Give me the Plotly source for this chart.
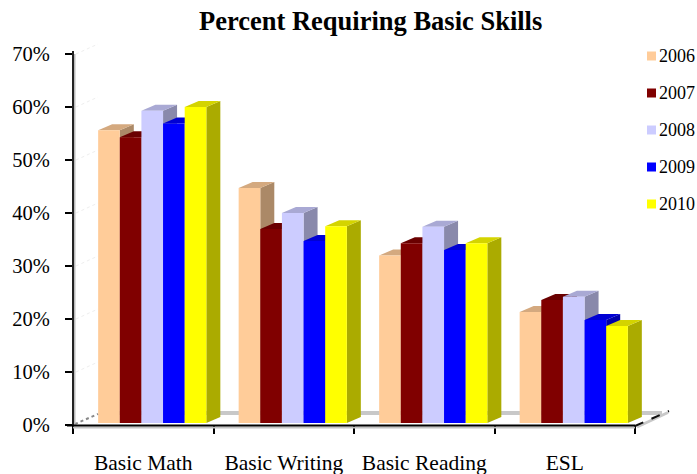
import plotly.graph_objects as go

categories = ["Basic Math", "Basic Writing", "Basic Reading", "ESL"]
years = ["2006", "2007", "2008", "2009", "2010"]
v2006 = [55.6, 44.7, 32.0, 21.3]
v2007 = [54.3, 37.0, 34.3, 23.6]
v2008 = [59.3, 40.0, 37.4, 24.2]
v2009 = [56.9, 34.7, 33.0, 19.8]
v2010 = [60.0, 37.5, 34.3, 18.7]
series = [v2006, v2007, v2008, v2009, v2010]
colors = ["#FFCC99", "#800000", "#CCCCFF", "#0000FF", "#FFFF00"]
y_ticks = [0, 10, 20, 30, 40, 50, 60, 70]

W, H = 697, 474
X0, X4, Y0, Y70 = 73, 635, 425, 54      # pixel frame of the axes
XR = 660                                 # plot area runs past the axis for the 3D depth
UNIT = (X4 - X0) / 4
BAR_W = 0.154
OFFSET = 0.064
BASE = 0.4
DX = 14 / UNIT
DY = 6 / ((Y0 - Y70) / 70)


def shade(hex_color, k):
    r, g, b = (int(hex_color[i:i + 2], 16) for i in (1, 3, 5))
    return f"rgb({round(r * k)},{round(g * k)},{round(b * k)})"


def px(x):
    return x / W


def py(y):
    return 1 - y / H


def line(x0, y0, x1, y1, color, width, dash="solid", layer="above"):
    return dict(type="line", xref="paper", yref="paper", x0=px(x0), y0=py(y0), x1=px(x1), y1=py(y1),
                line=dict(color=color, width=width, dash=dash), layer=layer)


fig = go.Figure()

# side faces, then top faces, underneath the fronts
for i in range(len(categories)):
    for j, vals in enumerate(series):
        left = i + 0.5 + OFFSET + (j - 2.5) * BAR_W
        right = left + BAR_W
        v = vals[i]
        fig.add_trace(go.Scatter(
            x=[right, right + DX, right + DX, right, right],
            y=[BASE, BASE + DY, v + DY, v, BASE],
            mode="lines", fill="toself", fillcolor=shade(colors[j], 0.67),
            line=dict(width=0), hoverinfo="skip", showlegend=False))
for i in range(len(categories)):
    for j, vals in enumerate(series):
        left = i + 0.5 + OFFSET + (j - 2.5) * BAR_W
        right = left + BAR_W
        v = vals[i]
        fig.add_trace(go.Scatter(
            x=[left, right, right + DX, left + DX, left],
            y=[v, v, v + DY, v + DY, v],
            mode="lines", fill="toself", fillcolor=shade(colors[j], 0.83),
            line=dict(width=0), hoverinfo="skip", showlegend=False))

# front faces
centers = [i + 0.5 + OFFSET for i in range(len(categories))]
for j, vals in enumerate(series):
    fig.add_trace(go.Bar(
        x=centers, y=[v - BASE for v in vals], base=BASE, name=years[j],
        marker=dict(color=colors[j], line=dict(width=0)),
        xaxis="x2", yaxis="y2", showlegend=False))

shapes = [
    # floor back edge
    line(100, 413, 662, 413, "#C8C8C8", 4, layer="below"),
    # left floor edge and right depth axis
    line(75, 424, 98, 414, "#888888", 2, "dot"),
    line(X4 + 2, 427, 668, 412.5, "#C8C8C8", 3, layer="below"),
    line(X4, 426, 669, 411, "#111111", 2, "dash"),
    # axis lines with their soft shadows
    line(X0 + 1.5, Y70, X0 + 1.5, Y0, "#BBBBBB", 2),
    line(X0, Y70 - 3, X0, Y0 + 1, "#222222", 2),
    line(X0, Y0 + 2.5, X4, Y0 + 2.5, "#C4C4C4", 2),
    line(X0 - 6, Y0 + 0.5, X4, Y0 + 0.5, "#000000", 2),
]
for t in y_ticks[1:]:
    y = Y0 - t * (Y0 - Y70) / 70
    shapes.append(line(X0 + 3, y, 98, y - 10, "#EEEEEE", 1, "dot", layer="below"))

annotations = [dict(text="<b>Percent Requiring Basic Skills</b>", xref="paper", yref="paper",
                    x=px(370), y=py(21), xanchor="center", yanchor="middle", showarrow=False,
                    font=dict(family="Liberation Serif", size=26.5, color="#000000"))]
for j, year in enumerate(years):
    yc = 56 + j * 37
    shapes.append(dict(type="rect", xref="paper", yref="paper", x0=px(647), x1=px(656),
                       y0=py(yc + 4.5), y1=py(yc - 4.5), fillcolor=colors[j], line=dict(width=0)))
    annotations.append(dict(text=year, xref="paper", yref="paper", x=px(657), y=py(yc),
                            xanchor="left", yanchor="middle", showarrow=False,
                            font=dict(family="Liberation Serif", size=18, color="#000000")))

x_range = [0, (XR - X0) / UNIT]
x_domain = [px(X0), px(XR)]
y_domain = [py(Y0), py(Y70)]

fig.update_layout(
    width=W, height=H, margin=dict(l=0, r=0, t=0, b=0, autoexpand=False),
    paper_bgcolor="white", plot_bgcolor="white", showlegend=False,
    barmode="group", bargap=1 - 5 * BAR_W, bargroupgap=0,
    font=dict(family="Liberation Serif", size=19, color="#000000"),
    shapes=shapes, annotations=annotations,
    xaxis=dict(domain=x_domain, range=x_range, showgrid=False, zeroline=False, showline=False,
               tickmode="array", tickvals=[i + 0.5 for i in range(len(categories))], ticktext=categories,
               ticks="", ticklabelstandoff=22, tickfont=dict(size=21.5),
               minor=dict(tickmode="array", tickvals=list(range(len(categories) + 1)),
                          ticks="outside", ticklen=8, tickwidth=2, tickcolor="#000000")),
    yaxis=dict(domain=y_domain, range=[0, 70], showgrid=False, zeroline=False, showline=False,
               tickmode="array", tickvals=y_ticks, ticktext=[f"{t}%" for t in y_ticks],
               ticks="outside", ticklen=7, tickwidth=2, tickcolor="#000000", ticklabelstandoff=11,
               tickfont=dict(size=20.5)),
    xaxis2=dict(overlaying="x", domain=x_domain, range=x_range, visible=False),
    yaxis2=dict(overlaying="y", domain=y_domain, range=[0, 70], visible=False),
)
fig.write_html("out.html", config={"displayModeBar": False},
               post_script="document.body.style.margin='0';")
